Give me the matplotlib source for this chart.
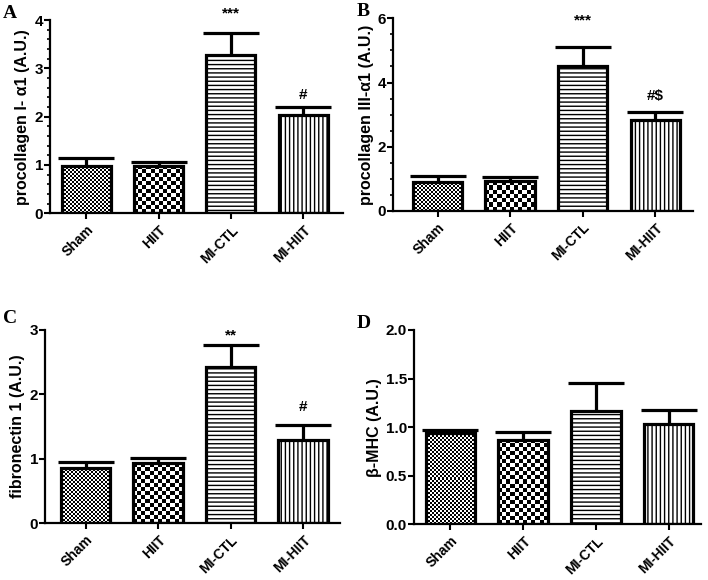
import numpy as np
import matplotlib
matplotlib.use("Agg")
import matplotlib.pyplot as plt
from matplotlib.ticker import MultipleLocator, FormatStrFormatter

plt.rcParams['font.family'] = ['Liberation Sans', 'DejaVu Sans']
plt.rcParams['font.weight'] = 'bold'
plt.rcParams['hatch.linewidth'] = 1.0

groups = ["Sham", "HIIT", "MI-CTL", "MI-HIIT"]

procol1_mean = [0.98, 0.98, 3.28, 2.04]
procol1_err = [0.17, 0.08, 0.45, 0.15]
procol3_mean = [0.91, 0.93, 4.52, 2.83]
procol3_err = [0.19, 0.14, 0.60, 0.25]
fibro_mean = [0.86, 0.93, 2.43, 1.29]
fibro_err = [0.09, 0.09, 0.33, 0.24]
bmhc_mean = [0.935, 0.867, 1.166, 1.029]
bmhc_err = [0.035, 0.086, 0.29, 0.15]

sig_A = ["", "", "***", "#"]
sig_B = ["", "", "***", "#$"]
sig_C = ["", "", "**", "#"]
sig_D = ["", "", "", ""]

fig = plt.figure(figsize=(7.08, 5.8), dpi=100)

panels = [
    dict(letter="A", mean=procol1_mean, err=procol1_err, sig=sig_A, sigy=[0, 0, 3.98, 2.30],
         ylabel="procollagen I- α1 (A.U.)", ylim=4, major=1, minor=0.2, fmt="%d",
         rect=[50/708, 1-213.3/580, 293/708, 193.3/580], xlim=(-0.50, 3.55), lpos=(3, 5)),
    dict(letter="B", mean=procol3_mean, err=procol3_err, sig=sig_B, sigy=[0, 0, 5.7, 3.35],
         ylabel="procollagen III-α1 (A.U.)", ylim=6, major=2, minor=0.5, fmt="%d",
         rect=[393.3/708, 1-211/580, 299.7/708, 192.7/580], xlim=(-0.61, 3.52), lpos=(357, 3)),
    dict(letter="C", mean=fibro_mean, err=fibro_err, sig=sig_C, sigy=[0, 0, 2.8, 1.70],
         ylabel="fibronectin 1 (A.U.)", ylim=3, major=1, minor=None, fmt="%d",
         rect=[45/708, 1-523.3/580, 295/708, 193.3/580], xlim=(-0.56, 3.51), lpos=(3, 310)),
    dict(letter="D", mean=bmhc_mean, err=bmhc_err, sig=sig_D, sigy=[0, 0, 0, 0],
         ylabel="β-MHC (A.U.)", ylim=2.0, major=0.5, minor=None, fmt="%.1f",
         rect=[414/708, 1-524.3/580, 286.7/708, 194.3/580], xlim=(-0.50, 3.44), lpos=(357, 315)),
]

styles = ["checkfine", "checkcoarse", "----", "||||"]


def checker(ax, patch, cell_px, zo):
    x0, y0 = patch.get_x(), patch.get_y()
    w, h = patch.get_width(), patch.get_height()
    p0 = ax.transData.transform((x0, y0))
    p1 = ax.transData.transform((x0 + w, y0 + h))
    nx = max(1, int(round(abs(p1[0] - p0[0]) / cell_px)))
    ny = max(1, int(round(abs(p1[1] - p0[1]) / cell_px)))
    arr = np.add.outer(np.arange(ny), np.arange(nx)) % 2
    im = ax.imshow(arr, cmap="gray", extent=[x0, x0 + w, y0, y0 + h], origin="lower",
                   interpolation="nearest", aspect="auto", zorder=zo, vmin=0, vmax=1)
    im.set_clip_path(patch)


for p in panels:
    ax = fig.add_axes(p["rect"])
    x = np.arange(len(groups))
    ax.set_xlim(*p["xlim"])
    ax.set_ylim(0, p["ylim"])
    width = 0.68
    bars = ax.bar(x, p["mean"], width=width, color="white", edgecolor="none", zorder=2)
    for b, st in zip(bars, styles):
        if st == "checkfine":
            checker(ax, b, 2.0, 2.5)
        elif st == "checkcoarse":
            checker(ax, b, 4.0, 2.5)
        else:
            b.set_hatch(st)
            b.set_edgecolor("black")
            b.set_linewidth(0)
    ax.bar(x, p["mean"], width=width, fill=False, edgecolor="black", linewidth=2.3, zorder=3)
    _, caps, _ = ax.errorbar(x, p["mean"], yerr=[np.zeros(len(x)), p["err"]], fmt="none",
                             ecolor="black", elinewidth=2.3, capsize=20, capthick=2.3, zorder=1.5)
    caps[0].set_visible(False)
    for xi, s, sy in zip(x, p["sig"], p["sigy"]):
        if s:
            ax.text(xi, sy, s, ha="center", va="bottom", fontsize=11, fontweight="bold")

    for side in ("top", "right"):
        ax.spines[side].set_visible(False)
    for side in ("left", "bottom"):
        ax.spines[side].set_linewidth(1.6)
    ax.yaxis.set_major_locator(MultipleLocator(p["major"]))
    ax.yaxis.set_major_formatter(FormatStrFormatter(p["fmt"]))
    if p["minor"]:
        ax.yaxis.set_minor_locator(MultipleLocator(p["minor"]))
        ax.tick_params(axis="y", which="minor", length=2.5, width=1.2)
    ax.tick_params(axis="y", which="major", length=4, width=1.5, labelsize=11, pad=1)
    ax.tick_params(axis="x", which="major", length=4, width=1.5, labelsize=10, pad=3)
    ax.set_xticks(x)
    ax.set_xticklabels(groups, rotation=45, ha="right", rotation_mode="anchor", fontweight="bold")
    for lab in ax.get_yticklabels():
        lab.set_fontweight("bold")
    ax.set_ylabel(p["ylabel"], fontsize=11.5, fontweight="bold", labelpad=3)

    fig.text(p["lpos"][0] / 708, 1 - p["lpos"][1] / 580, p["letter"], fontsize=14,
             fontweight="bold", family="Liberation Serif", ha="left", va="top")

fig.savefig("out.png", dpi=100)
